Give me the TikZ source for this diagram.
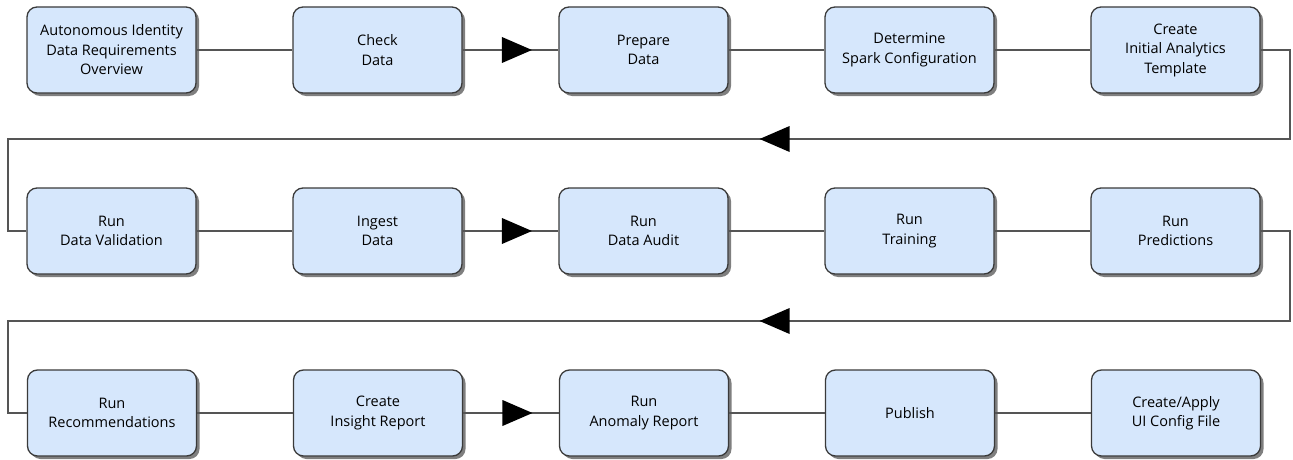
\documentclass[tikz,border=0pt]{standalone}
\usepackage{fontspec}
\setmainfont{Open Sans}
\usetikzlibrary{positioning,shapes.geometric,shadows}

\definecolor{boxblue}{HTML}{D6E7FC}
\definecolor{boxline}{HTML}{3A3A3A}
\definecolor{wire}{HTML}{555555}

\tikzset{
    stepbox/.style={draw=boxline, line width=1.3pt, fill=boxblue, rounded corners=10pt,
        minimum width=169pt, minimum height=86pt, align=center, inner sep=2pt,
        font=\fontsize{14.5}{19.5}\selectfont,
        drop shadow={shadow xshift=3pt, shadow yshift=-3pt, opacity=0.5, fill=black}},
    link/.style={draw=wire, line width=1.2pt},
    tip/.style={isosceles triangle, isosceles triangle stretches, fill=black, inner sep=0pt,
        minimum width=26pt, minimum height=30pt, anchor=center},
    rtip/.style={tip},
    ltip/.style={tip, shape border rotate=180}
}

\begin{document}
\begin{tikzpicture}[x=1pt, y=1pt, node distance=95.7pt and 95.7pt]
    \useasboundingbox (0,0) rectangle (1293,-460);
    \node[stepbox] (v1) at (111.5,-50) {Autonomous Identity\\Data Requirements\\Overview};
    \node[stepbox, right=of v1] (v2) {Check\\Data};
    \node[stepbox, right=of v2] (v3) {Prepare\\Data};
    \node[stepbox, right=of v3] (v4) {Determine\\Spark Configuration};
    \node[stepbox, right=of v4] (v5) {Create\\Initial Analytics\\Template};

    \node[stepbox] (v6) at (111.5,-231) {Run\\Data Validation};
    \node[stepbox, right=of v6] (v7) {Ingest\\Data};
    \node[stepbox, right=of v7] (v8) {Run\\Data Audit};
    \node[stepbox, right=of v8] (v9) {Run\\Training};
    \node[stepbox, right=of v9] (v10) {Run\\Predictions};

    \node[stepbox] (v11) at (112,-413) {Run\\Recommendations};
    \node[stepbox, right=of v11] (v12) {Create\\Insight Report};
    \node[stepbox, right=of v12] (v13) {Run\\Anomaly Report};
    \node[stepbox, right=of v13] (v14) {Publish};
    \node[stepbox, right=of v14] (v15) {Create/Apply\\UI Config File};

    \coordinate (ra) at (1290,-139);
    \coordinate (la) at (8,-139);
    \coordinate (rb) at (1290,-321);
    \coordinate (lb) at (8,-321);

    \draw[link] (v1) -- (v2);
    \draw[link] (v2) -- node[rtip]{} (v3);
    \draw[link] (v3) -- (v4);
    \draw[link] (v4) -- (v5);
    \draw[link] (v5.east) -| (ra) -- node[ltip, pos=0.397]{} (la) |- (v6.west);
    \draw[link] (v6) -- (v7);
    \draw[link] (v7) -- node[rtip]{} (v8);
    \draw[link] (v8) -- (v9);
    \draw[link] (v9) -- (v10);
    \draw[link] (v10.east) -| (rb) -- node[ltip, pos=0.397]{} (lb) |- (v11.west);
    \draw[link] (v11) -- (v12);
    \draw[link] (v12) -- node[rtip]{} (v13);
    \draw[link] (v13) -- (v14);
    \draw[link] (v14) -- (v15);
\end{tikzpicture}
\end{document}
